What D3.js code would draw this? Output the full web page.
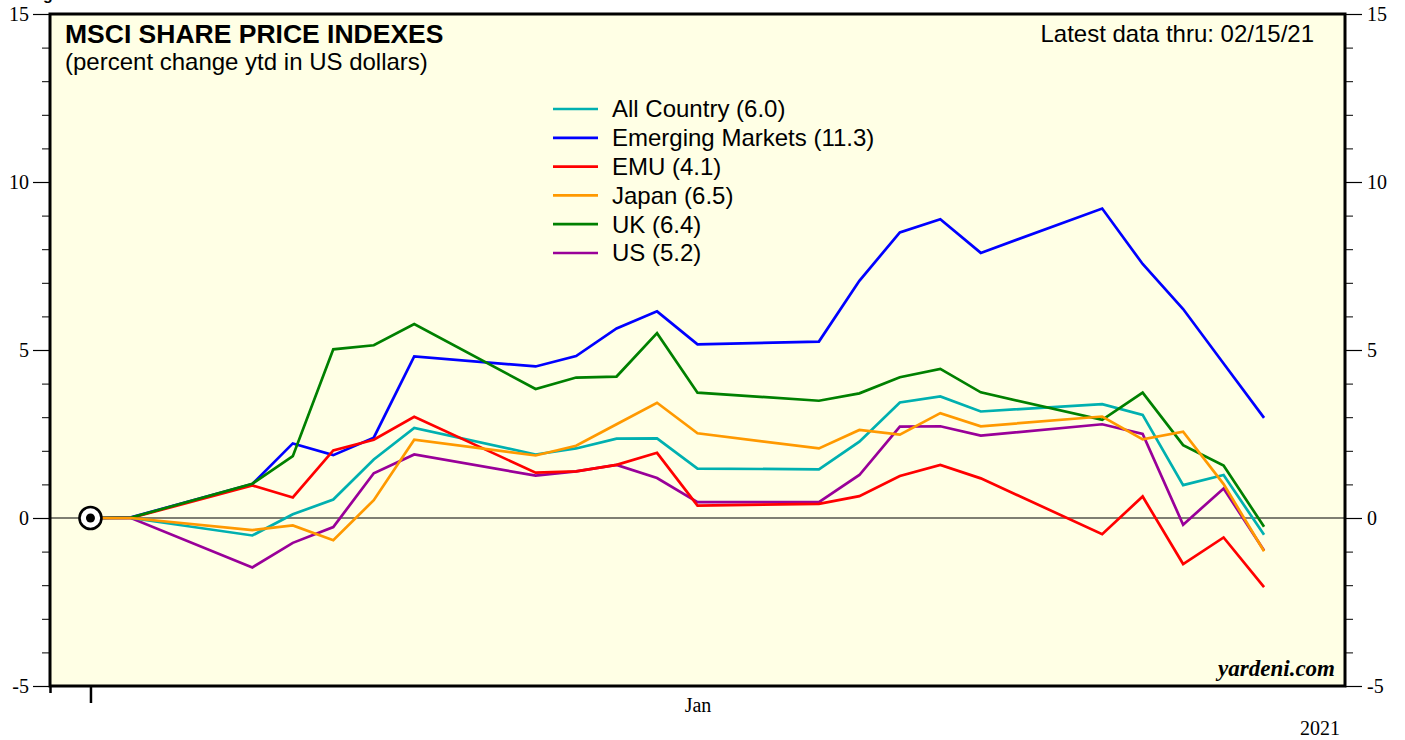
<!DOCTYPE html>
<html>
<head>
<meta charset="utf-8">
<script src="https://cdn.jsdelivr.net/npm/d3@7"></script>
<style>
  body { margin: 0; background: #fff; }
  svg { display: block; }
</style>
</head>
<body>
<div id="chart"></div>
<script>
// trading days shown on the chart
const dates = ["2020-12-31","2021-01-01","2021-01-04","2021-01-05","2021-01-06","2021-01-07","2021-01-08",
  "2021-01-11","2021-01-12","2021-01-13","2021-01-14","2021-01-15","2021-01-18","2021-01-19",
  "2021-01-20","2021-01-21","2021-01-22","2021-01-25","2021-01-26","2021-01-27","2021-01-28","2021-01-29"];

const allCountry = [0, 0, -0.52, 0.11, 0.55, 1.74, 2.68, 1.89, 2.07, 2.36, 2.37, 1.47, 1.45, 2.27, 3.44, 3.62, 3.17, 3.39, 3.07, 0.98, 1.28, -0.50];
const emerging   = [0, 0.02, 1.01, 2.22, 1.87, 2.39, 4.81, 4.51, 4.82, 5.64, 6.15, 5.17, 5.25, 7.06, 8.50, 8.89, 7.89, 9.21, 7.56, 6.22, 4.60, 2.98];
const emu        = [0, 0, 0.97, 0.61, 2.01, 2.33, 3.01, 1.35, 1.39, 1.58, 1.94, 0.37, 0.42, 0.65, 1.25, 1.58, 1.18, -0.48, 0.64, -1.37, -0.58, -2.06];
const japan      = [0, 0, -0.36, -0.22, -0.66, 0.53, 2.33, 1.86, 2.15, 2.79, 3.43, 2.52, 2.07, 2.62, 2.48, 3.12, 2.73, 3.02, 2.34, 2.57, 1.01, -0.99];
const uk         = [0, 0.01, 1.02, 1.84, 5.02, 5.14, 5.77, 3.84, 4.18, 4.21, 5.50, 3.73, 3.49, 3.71, 4.19, 4.44, 3.74, 2.92, 3.73, 2.17, 1.56, -0.26];
const us         = [0, 0, -1.47, -0.74, -0.27, 1.33, 1.89, 1.26, 1.39, 1.58, 1.19, 0.47, 0.47, 1.28, 2.72, 2.73, 2.45, 2.79, 2.50, -0.20, 0.88, -0.97];

const seriesNames = ["All Country (6.0)", "Emerging Markets (11.3)", "EMU (4.1)", "Japan (6.5)", "UK (6.4)", "US (5.2)"];
const seriesColors = ["#00b0b0", "#0000ff", "#ff0000", "#ff9900", "#008000", "#990099"];
const seriesValues = [allCountry, emerging, emu, japan, uk, us];
// drawing order (back to front)
const drawOrder = [5, 0, 1, 2, 4, 3];

const yMajor = [-5, 0, 5, 10, 15];

const W = 1405, H = 740;
const plotL = 50, plotR = 1345, plotT = 14, plotB = 686;

const parse = d3.timeParse("%Y-%m-%d");
const dateObjs = dates.map(parse);

const svg = d3.select("#chart").append("svg")
  .attr("width", W)
  .attr("height", H);

const x = d3.scaleTime()
  .domain([parse("2020-12-30"), parse("2021-01-31")])
  .range([plotL, plotR]);

const y = d3.scaleLinear()
  .domain([-5, 15])
  .range([plotB, plotT]);

// plot background
svg.append("rect")
  .attr("x", plotL).attr("y", plotT)
  .attr("width", plotR - plotL).attr("height", plotB - plotT)
  .attr("fill", "#ffffe5");

// cut-off title glyph at very top
svg.append("text")
  .attr("x", 43).attr("y", 0)
  .attr("font-family", "Arial, 'Liberation Sans', sans-serif")
  .attr("font-weight", "bold")
  .attr("font-size", 16)
  .text("g");

// y axes: minor + major ticks on both sides
const serif = "'Liberation Serif', 'Times New Roman', serif";
function yAxes(side) {
  const gen = side === "left" ? d3.axisLeft : d3.axisRight;
  const xpos = side === "left" ? plotL : plotR;
  svg.append("g")
    .attr("transform", `translate(${xpos},0)`)
    .call(gen(y).tickValues(d3.range(-5, 16)).tickSize(8).tickFormat(""))
    .call(g => g.select(".domain").remove());
  const major = svg.append("g")
    .attr("transform", `translate(${xpos},0)`)
    .call(gen(y).tickValues(yMajor).tickSize(17).tickPadding(side === "left" ? 4 : 5).tickFormat(d => String(d)))
    .call(g => g.select(".domain").remove());
  major.selectAll("line").attr("stroke-width", 1.2);
  major.selectAll("text")
    .attr("font-family", serif)
    .attr("font-size", 20)
    .attr("fill", "#000");
}
yAxes("left");
yAxes("right");

// x axis: year-end tick and month label
const xa = svg.append("g")
  .attr("transform", `translate(0,${plotB})`)
  .call(d3.axisBottom(x).tickValues([parse("2020-12-31")]).tickSize(17).tickFormat(""))
  .call(g => g.select(".domain").remove());
xa.selectAll("line").attr("stroke-width", 2.5);

// small stub below the left frame corner
svg.append("g")
  .attr("transform", `translate(0,${plotB})`)
  .call(d3.axisBottom(x).tickValues([parse("2020-12-30")]).tickSize(7).tickFormat(""))
  .call(g => g.select(".domain").remove())
  .selectAll("line").attr("stroke-width", 2.5);

svg.append("g")
  .attr("transform", `translate(0,${plotB})`)
  .call(d3.axisBottom(x).tickValues([parse("2021-01-15")]).tickSize(0).tickPadding(12).tickFormat(d3.timeFormat("%b")))
  .call(g => g.select(".domain").remove())
  .selectAll("text")
  .attr("font-family", serif)
  .attr("font-size", 20)
  .attr("fill", "#000");

svg.append("text")
  .attr("x", 1320).attr("y", 735)
  .attr("text-anchor", "middle")
  .attr("font-family", serif)
  .attr("font-size", 20)
  .text("2021");

// zero line
svg.append("line")
  .attr("x1", plotL).attr("x2", plotR)
  .attr("y1", y(0)).attr("y2", y(0))
  .attr("stroke", "#000")
  .attr("stroke-width", 1.2);

// series lines
const line = d3.line()
  .x((d, i) => x(dateObjs[i]))
  .y(d => y(d));

drawOrder.forEach(k => {
  svg.append("path")
    .datum(seriesValues[k])
    .attr("fill", "none")
    .attr("stroke", seriesColors[k])
    .attr("stroke-width", 2.7)
    .attr("stroke-linejoin", "miter")
    .attr("d", line);
});

// starting point marker
svg.append("circle")
  .attr("cx", x(dateObjs[0])).attr("cy", y(0))
  .attr("r", 11)
  .attr("fill", "#fff")
  .attr("stroke", "#000")
  .attr("stroke-width", 2.6);
svg.append("circle")
  .attr("cx", x(dateObjs[0])).attr("cy", y(0))
  .attr("r", 4.5)
  .attr("fill", "#000");

// frame
svg.append("rect")
  .attr("x", plotL).attr("y", plotT)
  .attr("width", plotR - plotL).attr("height", plotB - plotT)
  .attr("fill", "none")
  .attr("stroke", "#000")
  .attr("stroke-width", 3);

// titles
const sans = "Arial, 'Liberation Sans', sans-serif";
svg.append("text")
  .attr("x", 65).attr("y", 43)
  .attr("font-family", sans)
  .attr("font-weight", "bold")
  .attr("font-size", 26.5)
  .text("MSCI SHARE PRICE INDEXES");

svg.append("text")
  .attr("x", 65).attr("y", 70)
  .attr("font-family", sans)
  .attr("font-size", 24)
  .text("(percent change ytd in US dollars)");

svg.append("text")
  .attr("x", 1314).attr("y", 42)
  .attr("text-anchor", "end")
  .attr("font-family", sans)
  .attr("font-size", 24)
  .text("Latest data thru: 02/15/21");

// legend
const legend = svg.append("g");
seriesNames.forEach((name, i) => {
  const ly = 109 + i * 28.8;
  legend.append("line")
    .attr("x1", 553).attr("x2", 598)
    .attr("y1", ly).attr("y2", ly)
    .attr("stroke", seriesColors[i])
    .attr("stroke-width", 2.7);
  legend.append("text")
    .attr("x", 612).attr("y", ly)
    .attr("dy", "0.35em")
    .attr("font-family", sans)
    .attr("font-size", 24)
    .text(name);
});

// source
svg.append("text")
  .attr("x", 1335).attr("y", 676)
  .attr("text-anchor", "end")
  .attr("font-family", serif)
  .attr("font-weight", "bold")
  .attr("font-style", "italic")
  .attr("font-size", 23)
  .text("yardeni.com");
</script>
</body>
</html>
